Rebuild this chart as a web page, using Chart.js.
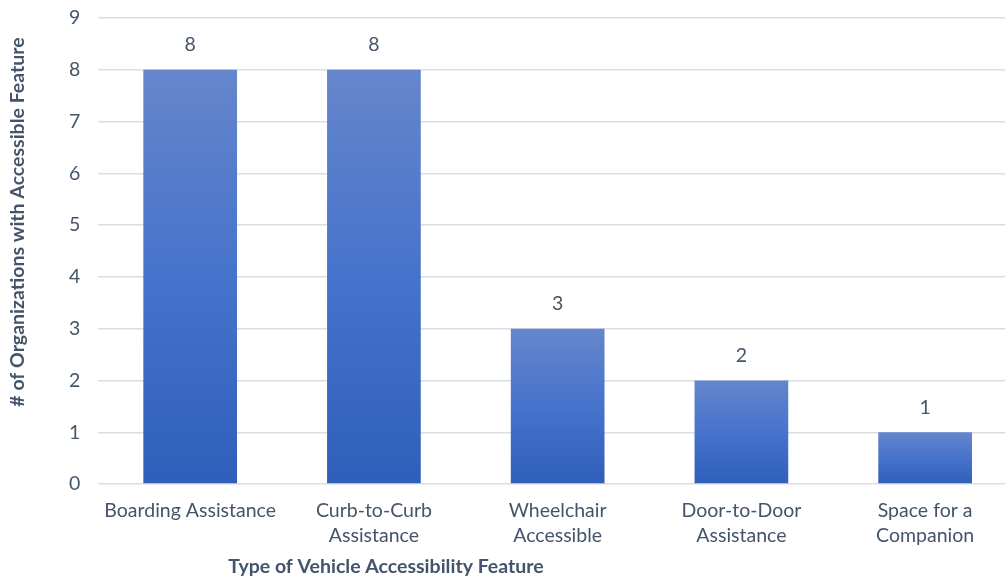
<!DOCTYPE html>
<html>
<head>
<meta charset="utf-8">
<script src="https://cdn.jsdelivr.net/npm/chart.js@4"></script>
<style>
  html, body { margin: 0; padding: 0; background: #fff; overflow: hidden; }
  #clip { width: 1005px; height: 581px; overflow: hidden; }
  #wrap { width: 1017px; height: 581px; position: relative; }
</style>
</head>
<body>
<div id="clip"><div id="wrap"><canvas id="chart"></canvas></div></div>
<script>
// Data
const categories = [
  "Boarding Assistance",
  ["Curb-to-Curb", "Assistance"],
  ["Wheelchair", "Accessible"],
  ["Door-to-Door", "Assistance"],
  ["Space for a", "Companion"]
];
const counts = [8, 8, 3, 2, 1];
const yTicks = [0, 1, 2, 3, 4, 5, 6, 7, 8, 9];

const xTitle = "Type of Vehicle Accessibility Feature";
const yTitle = "# of Organizations with Accessible Feature";

const textColor = "#44546a";
const fontFamily = "Lato, 'Open Sans', sans-serif";

// Verlauf pro Balken: oben hell, unten dunkel
function barGradient(context) {
  const chart = context.chart;
  const { ctx, chartArea, scales } = chart;
  if (!chartArea || context.type !== "data") return "#4472c4";
  const top = scales.y.getPixelForValue(context.raw);
  const bottom = scales.y.getPixelForValue(0);
  const g = ctx.createLinearGradient(0, top, 0, bottom);
  g.addColorStop(0, "#6586cc");
  g.addColorStop(0.5, "#4673cb");
  g.addColorStop(1, "#2f5fba");
  return g;
}

// Werte über den Balken + Achsentitel
const labelsPlugin = {
  id: "labels",
  afterDatasetsDraw(chart) {
    const ctx = chart.ctx;
    const meta = chart.getDatasetMeta(0);
    ctx.save();
    ctx.fillStyle = textColor;
    ctx.font = "19.5px " + fontFamily;
    ctx.textAlign = "center";
    ctx.textBaseline = "middle";
    meta.data.forEach((bar, i) => {
      ctx.fillText(String(counts[i]), bar.x, bar.y - 25);
    });

    ctx.font = "bold 19.5px " + fontFamily;
    ctx.fillText(xTitle, 386, 567);

    ctx.translate(18, 222);
    ctx.rotate(-Math.PI / 2);
    ctx.fillText(yTitle, 0, 0);
    ctx.restore();
  }
};

const ctx = document.getElementById("chart").getContext("2d");
new Chart(ctx, {
  type: "bar",
  data: {
    labels: categories,
    datasets: [
      {
        data: counts,
        backgroundColor: barGradient,
        borderWidth: 0,
        categoryPercentage: 1,
        barPercentage: 0.51
      }
    ]
  },
  options: {
    responsive: true,
    maintainAspectRatio: false,
    animation: false,
    layout: { padding: { left: 51, right: 0, top: 18, bottom: 27 } },
    plugins: {
      legend: { display: false },
      tooltip: { enabled: false }
    },
    scales: {
      x: {
        afterFit(axis) {
          axis.paddingLeft = 0;
          axis.paddingRight = 0;
        },
        grid: { display: false },
        border: { display: false },
        ticks: {
          color: textColor,
          font: { size: 19.5, family: fontFamily, lineHeight: 1.28 },
          padding: 6,
          maxRotation: 0,
          autoSkip: false
        }
      },
      y: {
        min: 0,
        max: 9,
        afterBuildTicks(axis) {
          axis.ticks = yTicks.map(v => ({ value: v }));
        },
        afterFit(axis) {
          axis.paddingTop = 0;
          axis.paddingBottom = 0;
        },
        grid: { color: "#d9dde5", lineWidth: 1.5, drawTicks: false },
        border: { display: false },
        ticks: {
          color: textColor,
          font: { size: 19.5, family: fontFamily },
          padding: 18
        }
      }
    }
  },
  plugins: [labelsPlugin]
});
</script>
</body>
</html>
